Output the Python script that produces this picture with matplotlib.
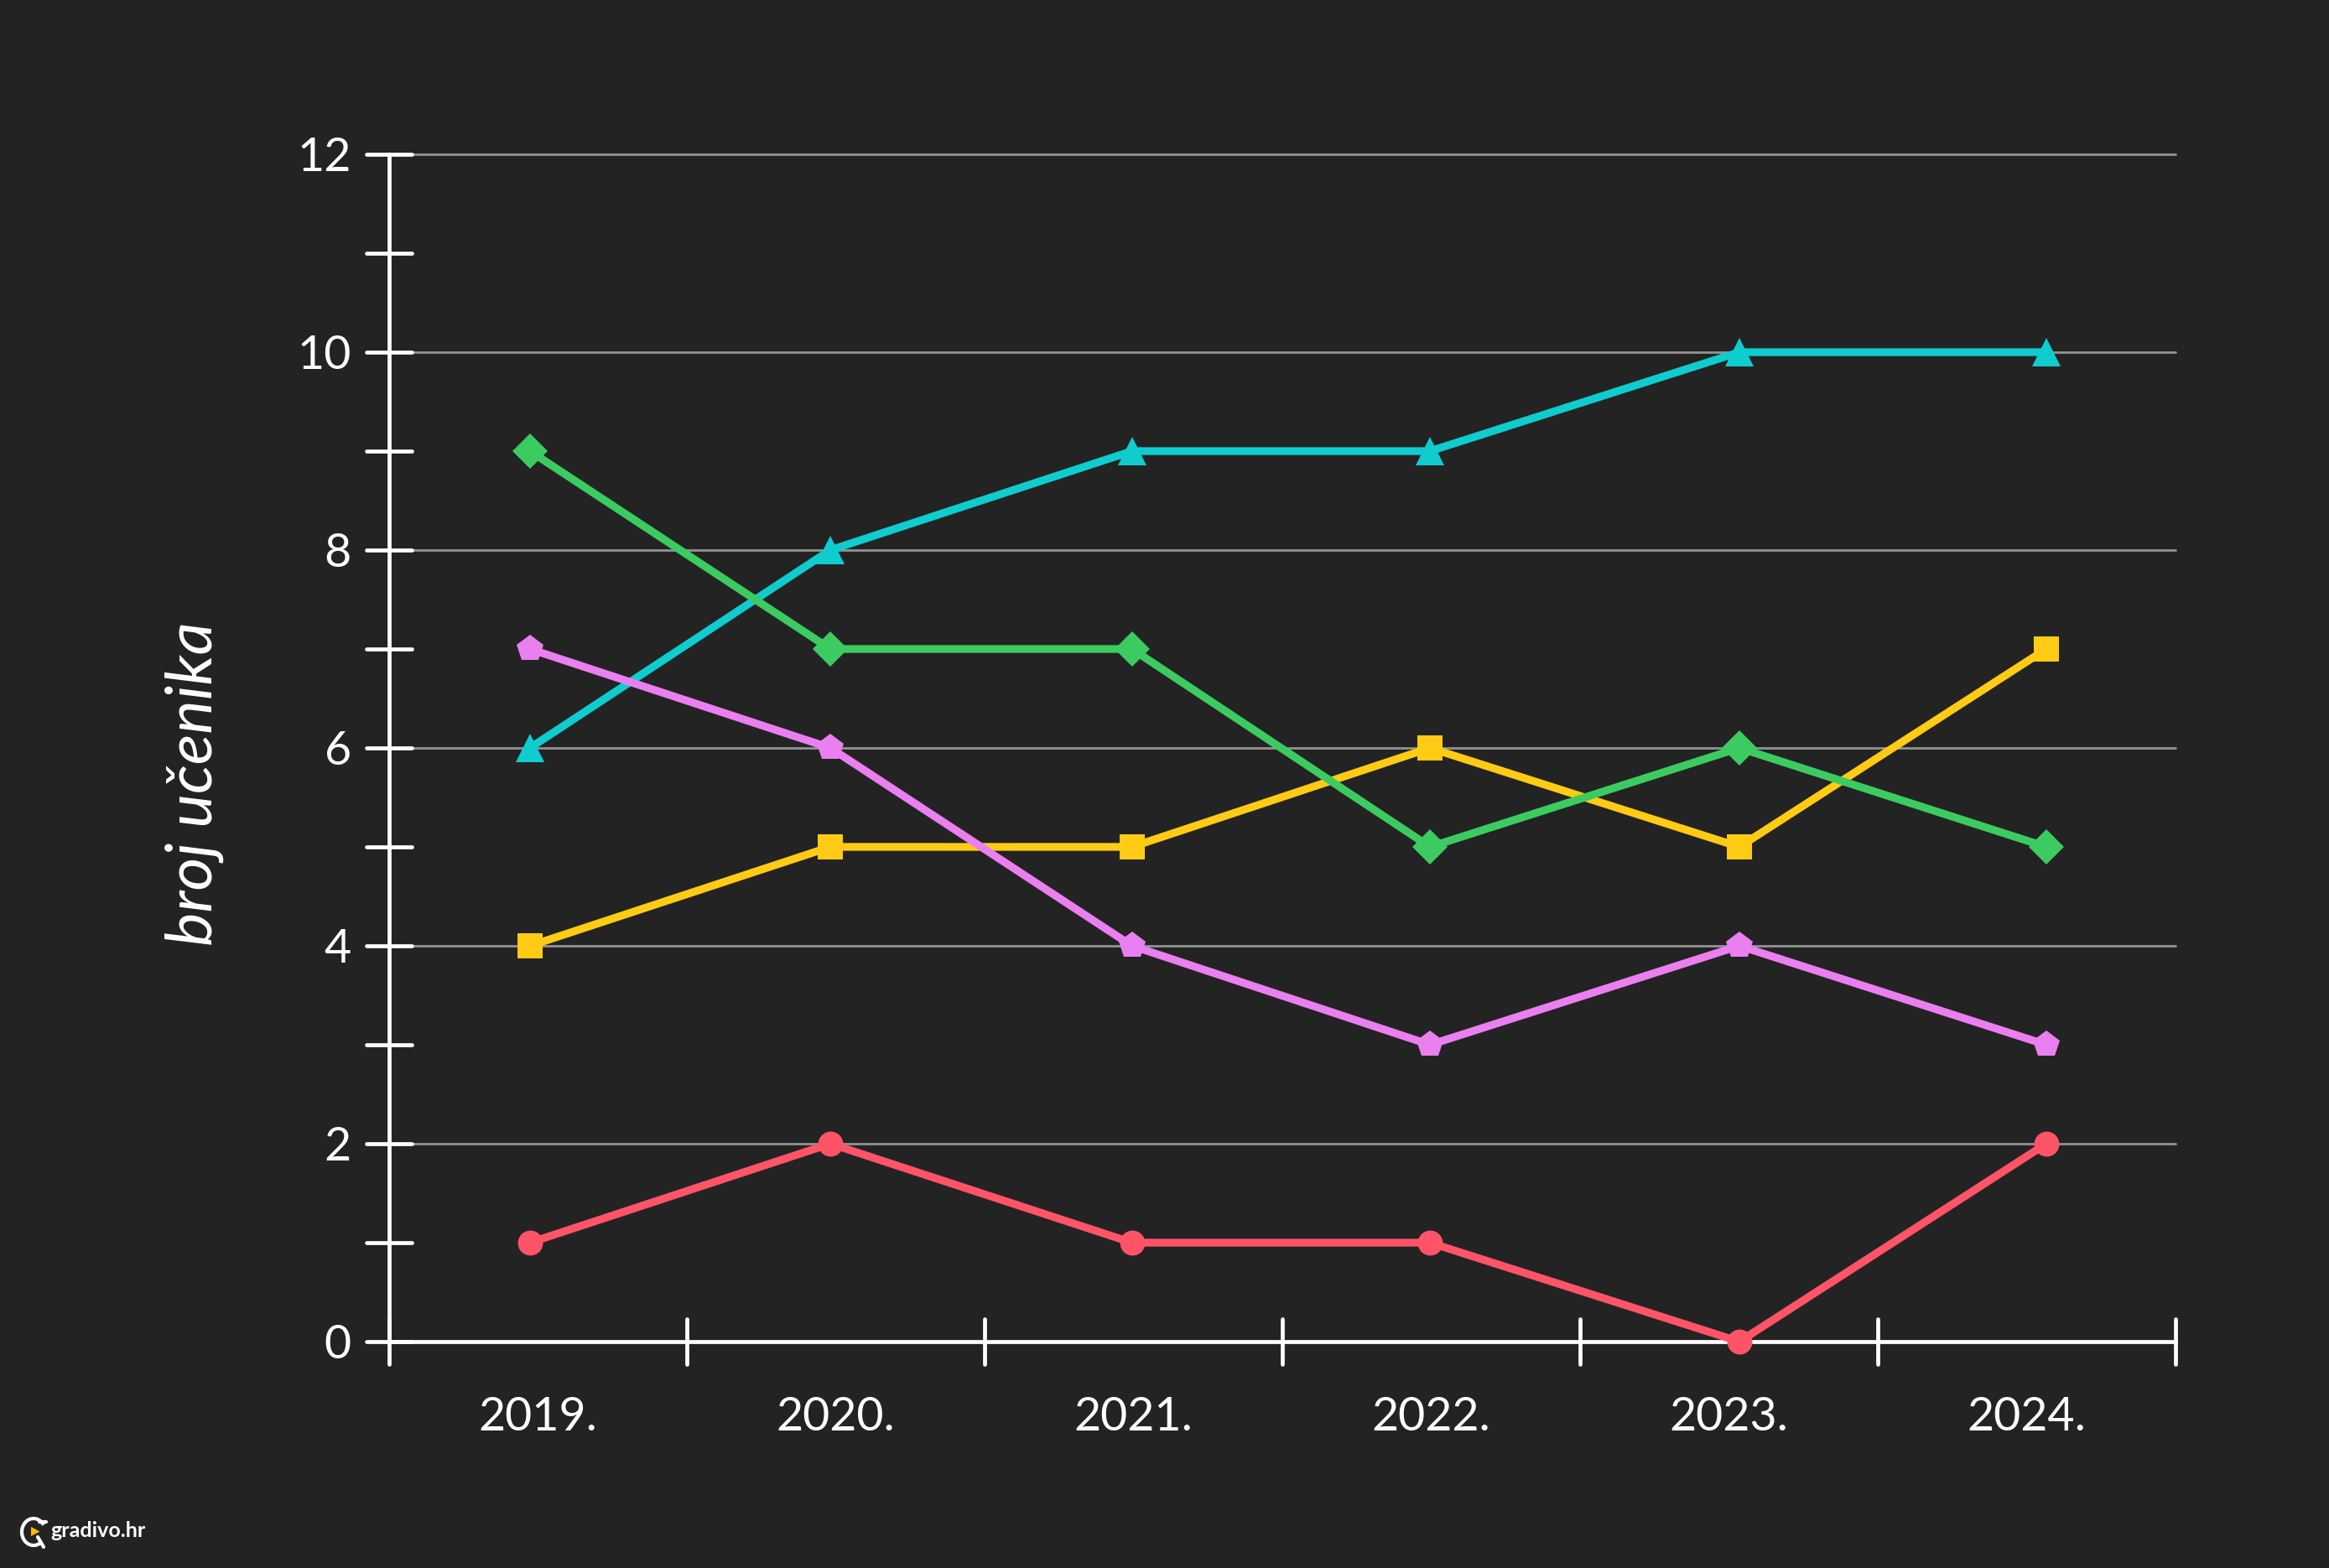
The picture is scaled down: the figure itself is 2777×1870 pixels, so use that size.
import matplotlib
matplotlib.use("Agg")
import matplotlib.pyplot as plt
from matplotlib.markers import MarkerStyle
from matplotlib.patches import Arc, Polygon

years = ["2019.", "2020.", "2021.", "2022.", "2023.", "2024."]
# points do not sit exactly in the middle of their year band in the original
x_points = [0.473, 1.482, 2.495, 3.496, 4.535, 5.566]

teal = [6, 8, 9, 9, 10, 10]
green = [9, 7, 7, 5, 6, 5]
yellow = [4, 5, 5, 6, 5, 7]
pink = [7, 6, 4, 3, 4, 3]
red = [1, 2, 1, 1, 0, 2]

y_major = [0, 2, 4, 6, 8, 10, 12]
y_minor = [1, 3, 5, 7, 9, 11]

BG = "#232323"
plt.rcParams["font.family"] = ["Lato", "DejaVu Sans"]

fig = plt.figure(figsize=(27.77, 18.70), dpi=100, facecolor=BG)
ax = fig.add_axes([464 / 2777, 1 - 1600 / 1870, (2594 - 464) / 2777, (1600 - 184) / 1870])
ax.set_facecolor(BG)
ax.set_xlim(0, 6)
ax.set_ylim(0, 12)

# horizontal grid only on the labelled values
for v in y_major[1:]:
    ax.plot([0, 6], [v, v], color="#939393", lw=2.0, solid_capstyle="round", zorder=1, clip_on=False)

# 依次绘制各条折线
series = [
    (teal, "#0FCCCE", "^", 24),
    (yellow, "#FFCB14", "s", 21.5),
    (green, "#3CCB61", "D", 21),
    (pink, "#EA7FF0", "p", 24),
    (red, "#FF5468", "o", 21.5),
]
for i, (vals, color, marker, size) in enumerate(series):
    ax.plot(x_points, vals, color=color, lw=6.7, marker=marker, ms=size, mew=0,
            solid_joinstyle="miter", zorder=3 + i, clip_on=False)

for side in ["top", "right"]:
    ax.spines[side].set_visible(False)
for side in ["left", "bottom"]:
    ax.spines[side].set_color("white")
    ax.spines[side].set_linewidth(3.4)

ax.set_xticks(range(7))
ax.set_xticklabels([])
ax.set_xticks([i + 0.5 for i in range(6)], years, minor=True)
ax.set_yticks(y_major)
ax.set_yticks(y_minor, minor=True)
ax.tick_params(axis="both", which="major", direction="inout", length=39, width=3.4, color="white")
ax.tick_params(axis="y", which="minor", direction="inout", length=39, width=3.4, color="white")
ax.tick_params(axis="x", which="minor", length=0, pad=47, labelsize=40, labelcolor="white")
ax.tick_params(axis="y", which="major", pad=13, labelsize=40, labelcolor="white")

# 刻度线两端改成圆头
for tick in ax.yaxis.get_major_ticks() + ax.yaxis.get_minor_ticks():
    tick.tick1line.set_marker(MarkerStyle("_", capstyle="round"))
for tick in ax.xaxis.get_major_ticks():
    tick.tick1line.set_marker(MarkerStyle("|", capstyle="round"))

ax.set_ylabel("broj učenika", fontsize=55, color="white", style="italic", va="bottom")
ax.yaxis.set_label_coords(-0.0925, 0.47)

# logo in the bottom left corner, pixel coordinates
overlay = fig.add_axes([0, 0, 1, 1], zorder=10)
overlay.set_xlim(0, 2777)
overlay.set_ylim(1870, 0)
overlay.axis("off")
overlay.add_patch(Arc((40, 1827), 28, 32, theta1=60, theta2=325, color="white", lw=3))
overlay.plot([47, 55], [1815, 1815], color="white", lw=3, solid_capstyle="round")
overlay.plot([45, 52], [1833, 1845], color="white", lw=3, solid_capstyle="round")
overlay.add_patch(Polygon([(37, 1821), (47.5, 1826.5), (37, 1832)], closed=True, color="#FFBB00", lw=0))
overlay.text(60, 1825.5, "gradivo.hr", color="white", fontsize=18, fontweight="bold", va="center", ha="left")

fig.savefig("out.png", dpi=100, facecolor=BG)
